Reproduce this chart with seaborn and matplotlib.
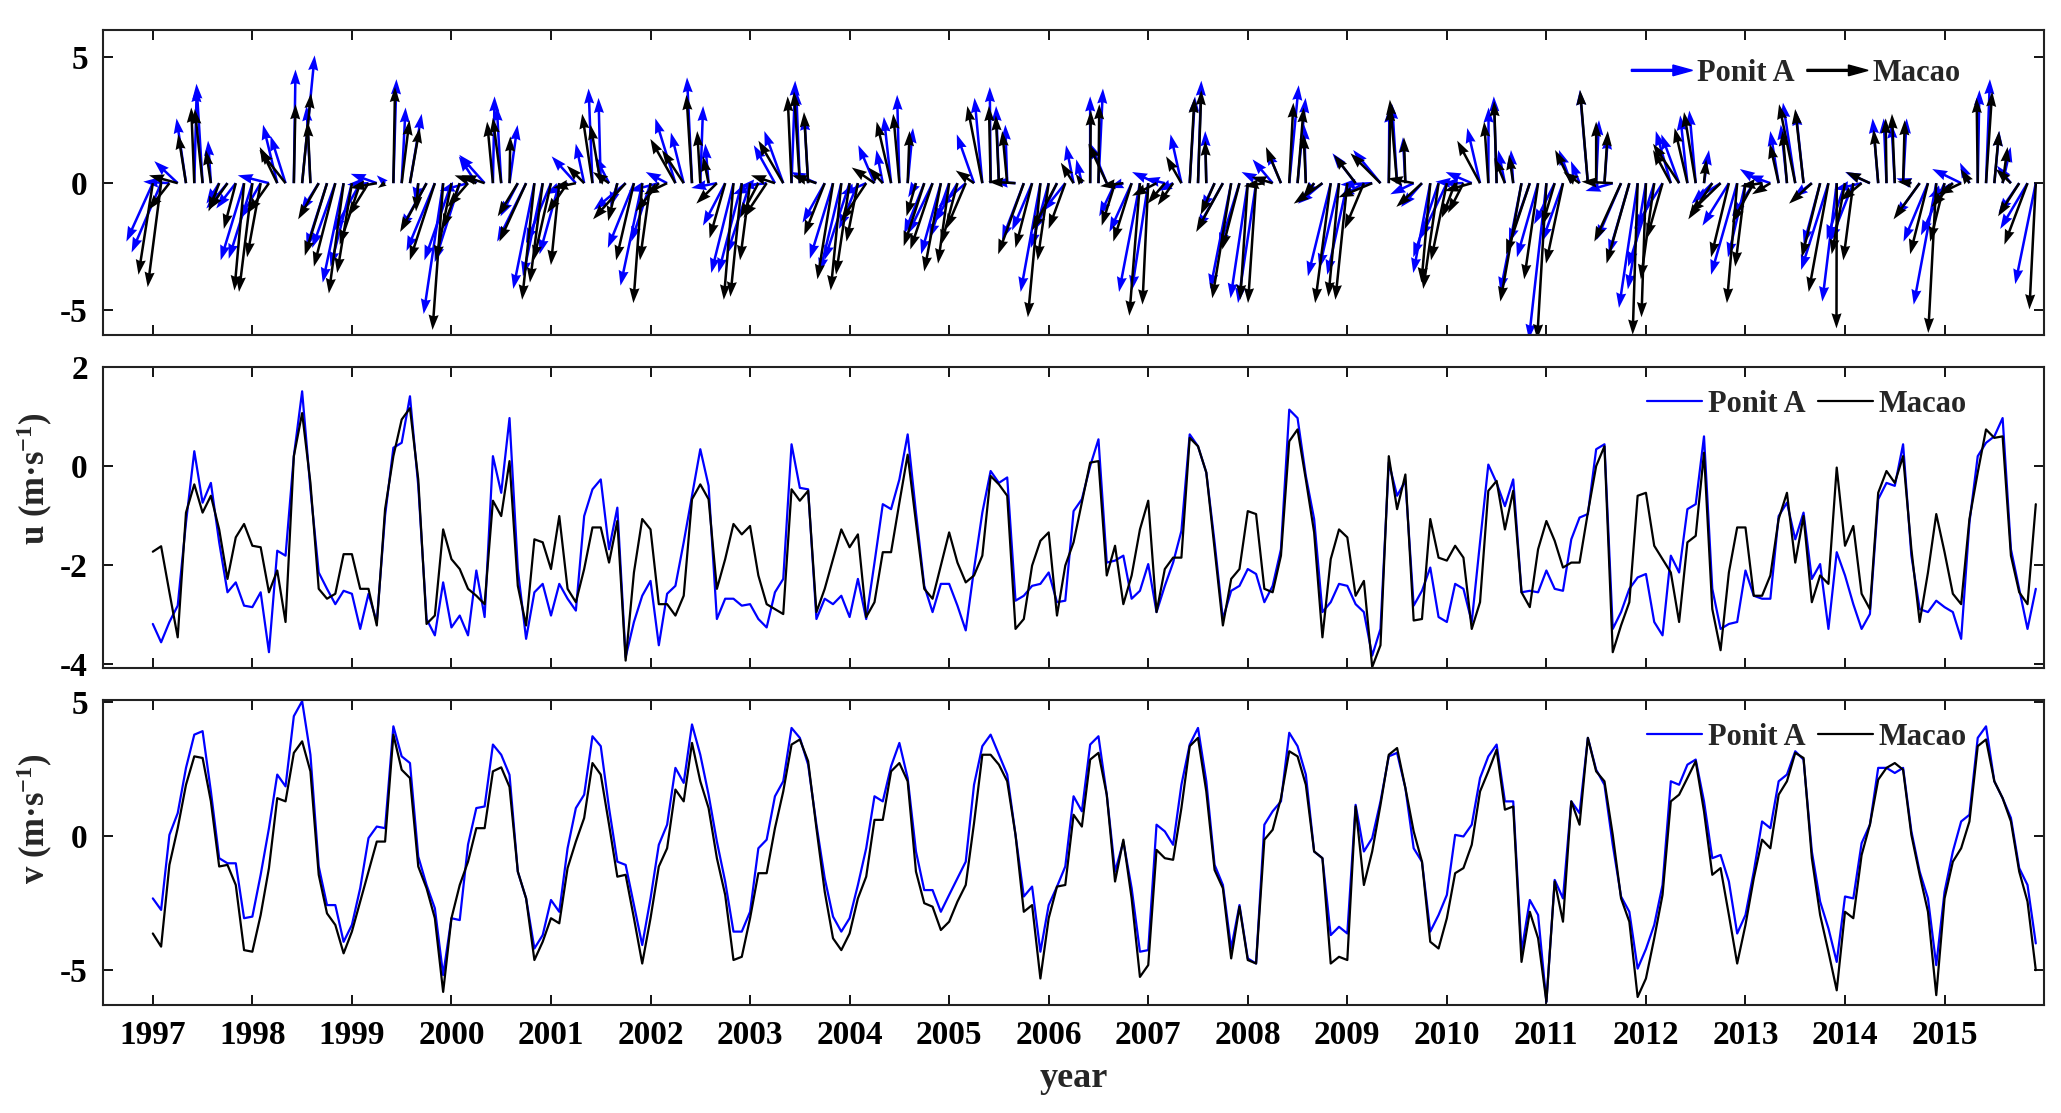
import numpy as np
import pandas as pd
import matplotlib
matplotlib.use("Agg")
import matplotlib.pyplot as plt
import matplotlib.patches as mpatches
from matplotlib.lines import Line2D
from matplotlib.legend_handler import HandlerPatch
import seaborn as sns

# monthly means, Jan 1997 .. Dec 2015 (one row per year)
years = list(range(1997, 2016))

u_point_a = [
    -3.19, -3.56, -3.15, -2.82, -1.14, 0.30, -0.74, -0.34, -1.54, -2.55, -2.35, -2.82,
    -2.85, -2.55, -3.76, -1.71, -1.81, 0.20, 1.51, -0.47, -2.15, -2.48, -2.79, -2.52,
    -2.58, -3.29, -2.58, -3.15, -1.00, 0.37, 0.47, 1.41, -0.40, -3.09, -3.42, -2.35,
    -3.26, -3.02, -3.42, -2.11, -3.05, 0.20, -0.54, 0.97, -2.08, -3.49, -2.55, -2.38,
    -3.02, -2.38, -2.68, -2.92, -1.01, -0.47, -0.27, -1.68, -0.84, -3.86, -3.15, -2.62,
    -2.32, -3.62, -2.58, -2.42, -1.54, -0.60, 0.34, -0.40, -3.09, -2.68, -2.68, -2.82,
    -2.79, -3.09, -3.26, -2.55, -2.28, 0.44, -0.44, -0.47, -3.09, -2.68, -2.79, -2.62,
    -3.05, -2.28, -3.09, -1.95, -0.77, -0.87, -0.27, 0.64, -0.94, -2.42, -2.95, -2.38,
    -2.38, -2.82, -3.32, -2.08, -0.94, -0.10, -0.34, -0.23, -2.72, -2.62, -2.42, -2.38,
    -2.15, -2.75, -2.72, -0.91, -0.67, 0.00, 0.54, -1.95, -1.91, -1.81, -2.68, -2.52,
    -1.98, -2.95, -2.42, -1.95, -1.31, 0.64, 0.40, -0.13, -1.54, -3.09, -2.52, -2.42,
    -2.08, -2.18, -2.75, -2.42, -1.68, 1.14, 0.97, -0.20, -1.07, -2.95, -2.75, -2.38,
    -2.42, -2.79, -2.95, -3.83, -3.29, 0.07, -0.60, -0.30, -2.82, -2.52, -2.05, -3.05,
    -3.15, -2.38, -2.48, -3.15, -1.54, 0.03, -0.34, -0.81, -0.27, -2.55, -2.52, -2.55,
    -2.11, -2.48, -2.52, -1.48, -1.04, -0.97, 0.34, 0.44, -3.29, -2.95, -2.48, -2.25,
    -2.18, -3.15, -3.42, -1.81, -2.15, -0.87, -0.77, 0.60, -2.48, -3.29, -3.19, -3.15,
    -2.11, -2.62, -2.68, -2.68, -1.01, -0.74, -1.48, -0.94, -2.28, -1.98, -3.29, -1.74,
    -2.21, -2.79, -3.29, -2.99, -0.67, -0.34, -0.40, 0.44, -1.81, -2.89, -2.95, -2.72,
    -2.85, -2.95, -3.49, -1.14, 0.20, 0.47, 0.60, 0.97, -1.68, -2.48, -3.29, -2.48,
]

u_macao = [
    -1.73, -1.62, -2.55, -3.46, -0.94, -0.37, -0.94, -0.60, -1.28, -2.28, -1.44, -1.17,
    -1.61, -1.64, -2.55, -2.11, -3.15, 0.20, 1.07, -0.34, -2.48, -2.68, -2.58, -1.78,
    -1.78, -2.48, -2.48, -3.22, -0.87, 0.20, 0.94, 1.17, -0.27, -3.19, -3.02, -1.28,
    -1.88, -2.08, -2.48, -2.62, -2.79, -0.70, -1.01, 0.10, -2.42, -3.22, -1.48, -1.54,
    -2.08, -1.01, -2.48, -2.75, -2.08, -1.24, -1.24, -1.95, -1.11, -3.93, -2.15, -1.07,
    -1.28, -2.79, -2.79, -3.02, -2.62, -0.67, -0.37, -0.67, -2.48, -1.88, -1.17, -1.38,
    -1.21, -2.21, -2.79, -2.89, -2.99, -0.47, -0.70, -0.50, -2.95, -2.48, -1.88, -1.28,
    -1.64, -1.38, -3.05, -2.75, -1.74, -1.74, -0.74, 0.23, -1.14, -2.48, -2.68, -2.01,
    -1.34, -1.95, -2.35, -2.21, -1.81, -0.20, -0.37, -0.60, -3.29, -3.09, -2.01, -1.51,
    -1.34, -3.02, -2.01, -1.54, -0.74, 0.07, 0.10, -2.21, -1.61, -2.79, -2.21, -1.28,
    -0.70, -2.95, -2.08, -1.85, -1.85, 0.57, 0.40, -0.13, -1.68, -3.22, -2.28, -2.08,
    -0.91, -0.97, -2.48, -2.55, -1.81, 0.50, 0.74, -0.27, -1.34, -3.46, -1.88, -1.28,
    -1.44, -2.62, -2.32, -4.06, -3.62, 0.20, -0.87, -0.17, -3.12, -3.09, -1.07, -1.85,
    -1.91, -1.61, -1.85, -3.29, -2.75, -0.50, -0.30, -1.28, -0.50, -2.55, -2.85, -1.68,
    -1.11, -1.51, -2.05, -1.95, -1.95, -0.94, 0.00, 0.40, -3.76, -3.22, -2.75, -0.60,
    -0.54, -1.61, -1.88, -2.15, -3.15, -1.54, -1.41, 0.27, -2.89, -3.72, -2.15, -1.24,
    -1.24, -2.62, -2.62, -2.21, -1.07, -0.54, -1.95, -1.01, -2.75, -2.21, -2.38, -0.03,
    -1.61, -1.21, -2.58, -2.89, -0.54, -0.10, -0.34, 0.20, -1.68, -3.15, -2.15, -0.97,
    -1.74, -2.58, -2.79, -1.07, -0.13, 0.74, 0.57, 0.60, -1.81, -2.55, -2.79, -0.77,
]

v_point_a = [
    -2.31, -2.74, 0.06, 0.87, 2.56, 3.80, 3.93, 1.68, -0.81, -1.00, -1.00, -3.05,
    -2.99, -1.43, 0.31, 2.31, 1.87, 4.49, 5.05, 3.05, -1.12, -2.56, -2.56, -3.93,
    -3.30, -1.93, -0.06, 0.37, 0.31, 4.11, 2.99, 2.74, -0.75, -1.81, -2.68, -5.17,
    -3.05, -3.12, -0.30, 1.06, 1.12, 3.43, 3.05, 2.30, -1.31, -2.31, -4.18, -3.68,
    -2.37, -2.81, -0.44, 1.06, 1.56, 3.74, 3.37, 1.06, -0.94, -1.06, -2.56, -4.05,
    -2.31, -0.31, 0.44, 2.56, 2.00, 4.18, 3.05, 1.56, -0.19, -1.68, -3.55, -3.55,
    -2.81, -0.44, -0.12, 1.50, 2.06, 4.05, 3.68, 2.68, 0.44, -1.56, -2.99, -3.55,
    -3.05, -1.81, -0.44, 1.50, 1.31, 2.62, 3.49, 2.18, -0.56, -2.00, -2.00, -2.81,
    -2.18, -1.56, -0.94, 1.93, 3.37, 3.80, 3.05, 2.31, 0.06, -2.24, -1.87, -4.30,
    -2.56, -1.87, -1.12, 1.50, 0.94, 3.43, 3.74, 1.56, -1.31, -0.19, -1.93, -4.30,
    -4.24, 0.44, 0.19, -0.31, 1.93, 3.43, 4.05, 2.06, -1.06, -1.81, -4.18, -2.56,
    -4.55, -4.74, 0.44, 0.94, 1.31, 3.87, 3.37, 2.31, -0.56, -0.81, -3.68, -3.37,
    -3.62, 1.18, -0.56, -0.06, 1.31, 2.99, 3.12, 1.81, -0.44, -0.94, -3.55, -2.93,
    -2.18, 0.06, 0.00, 0.44, 2.18, 2.99, 3.43, 1.31, 1.31, -4.30, -2.37, -2.93,
    -6.17, -1.62, -2.31, 1.31, 0.87, 3.68, 2.49, 1.93, -0.31, -2.24, -2.81, -4.93,
    -4.20, -3.30, -1.81, 2.06, 1.93, 2.68, 2.87, 1.31, -0.81, -0.69, -1.68, -3.62,
    -2.93, -1.31, 0.56, 0.31, 2.06, 2.31, 3.18, 2.87, -0.56, -2.43, -3.43, -4.68,
    -2.24, -2.31, -0.25, 0.44, 2.56, 2.56, 2.37, 2.56, 0.19, -1.31, -2.31, -4.80,
    -2.06, -0.56, 0.56, 0.81, 3.68, 4.11, 2.06, 1.43, 0.69, -1.18, -1.81, -3.99,
]

v_macao = [
    -3.62, -4.11, -1.06, 0.31, 1.93, 2.99, 2.93, 1.31, -1.12, -1.06, -1.81, -4.24,
    -4.30, -2.93, -1.18, 1.43, 1.31, 3.12, 3.55, 2.43, -1.43, -2.87, -3.30, -4.36,
    -3.55, -2.43, -1.31, -0.19, -0.19, 3.80, 2.49, 2.18, -1.12, -1.93, -3.05, -5.80,
    -3.05, -1.81, -0.94, 0.31, 0.31, 2.43, 2.58, 1.85, -1.31, -2.31, -4.61, -3.93,
    -3.05, -3.24, -1.18, -0.19, 0.69, 2.74, 2.31, 0.44, -1.50, -1.43, -3.05, -4.74,
    -3.05, -1.12, -0.44, 1.75, 1.31, 3.49, 2.06, 1.06, -0.81, -2.18, -4.61, -4.49,
    -3.05, -1.37, -1.37, 0.31, 1.68, 3.43, 3.62, 2.81, 0.31, -2.06, -3.80, -4.24,
    -3.62, -2.31, -1.50, 0.62, 0.62, 2.43, 2.74, 2.06, -1.31, -2.49, -2.62, -3.49,
    -3.18, -2.43, -1.81, 0.50, 3.05, 3.05, 2.68, 2.06, 0.06, -2.81, -2.56, -5.30,
    -3.05, -1.87, -1.81, 0.81, 0.37, 2.87, 3.12, 1.56, -1.68, -0.12, -2.31, -5.24,
    -4.80, -0.50, -0.81, -0.87, 1.06, 3.37, 3.68, 1.68, -1.25, -1.93, -4.55, -2.62,
    -4.61, -4.74, -0.12, 0.25, 1.43, 3.18, 2.99, 1.93, -0.56, -0.81, -4.74, -4.49,
    -4.61, 1.12, -1.81, -0.56, 1.18, 3.05, 3.30, 1.81, 0.19, -0.94, -3.93, -4.18,
    -3.05, -1.37, -1.18, -0.31, 1.68, 2.43, 3.24, 1.00, 1.12, -4.68, -2.81, -3.80,
    -6.17, -1.68, -3.18, 1.31, 0.44, 3.68, 2.43, 2.06, 0.06, -2.31, -3.18, -5.99,
    -5.30, -3.80, -2.18, 1.31, 1.56, 2.18, 2.81, 0.94, -1.43, -1.18, -2.93, -4.74,
    -3.30, -1.56, -0.12, -0.44, 1.56, 2.06, 3.12, 2.93, -0.81, -2.93, -4.30, -5.74,
    -2.81, -3.05, -0.69, 0.44, 2.12, 2.56, 2.74, 2.49, 0.06, -1.43, -2.81, -5.92,
    -2.31, -0.94, -0.44, 0.56, 3.37, 3.62, 2.06, 1.43, 0.56, -1.31, -2.43, -4.99,
]

sites = ["Ponit A", "Macao"]
colors = {"Ponit A": "blue", "Macao": "black"}

# x axis runs in months (1 = Jan 1997) so the quiver u component is in the same units
month = np.arange(1, len(u_point_a) + 1)
n = len(month)

df = pd.DataFrame({
    "month": np.concatenate([month, month]),
    "u": u_point_a + u_macao,
    "v": v_point_a + v_macao,
    "site": [sites[0]] * n + [sites[1]] * n,
})

sns.set_theme(style="ticks")
plt.rcParams["font.family"] = ["Liberation Serif", "DejaVu Serif"]
plt.rcParams["font.weight"] = "bold"
plt.rcParams["axes.unicode_minus"] = False
plt.rcParams["mathtext.fontset"] = "custom"
plt.rcParams["mathtext.rm"] = "Liberation Serif:bold"
plt.rcParams["mathtext.it"] = "Liberation Serif:bold"
plt.rcParams["mathtext.bf"] = "Liberation Serif:bold"

fig = plt.figure(figsize=(20.61, 11.13), dpi=100)
ax_q = fig.add_axes([0.050, 0.699, 0.9418, 0.274])
ax_u = fig.add_axes([0.050, 0.3998, 0.9418, 0.2704])
ax_v = fig.add_axes([0.050, 0.097, 0.9418, 0.274])

# --- top: wind vectors ---
for site in sites:
    d = df[df["site"] == site]
    ax_q.quiver(d["month"], np.zeros(len(d)), d["u"], d["v"], color=colors[site],
                angles="xy", scale_units="xy", scale=1,
                width=0.0013, headwidth=4, headlength=6, headaxislength=5.5)


def arrow_handle(legend, orig_handle, xdescent, ydescent, width, height, fontsize):
    return mpatches.FancyArrow(0, 0.5 * height, width, 0, length_includes_head=True,
                               width=0.09 * height, head_width=0.5 * height,
                               head_length=0.32 * width)


q_handles = [mpatches.Patch(color=colors[s]) for s in sites]
ax_q.legend(q_handles, sites, loc="upper right", bbox_to_anchor=(0.972, 1.0), ncol=2,
            frameon=False, fontsize=22, handlelength=2.0, handletextpad=0.15,
            columnspacing=0.4, borderaxespad=0.55,
            handler_map={mpatches.Patch: HandlerPatch(patch_func=arrow_handle)})

# --- middle and bottom: u and v time series ---
sns.lineplot(data=df, x="month", y="u", hue="site", hue_order=sites, palette=colors,
             ax=ax_u, linewidth=1.6, legend=False)
sns.lineplot(data=df, x="month", y="v", hue="site", hue_order=sites, palette=colors,
             ax=ax_v, linewidth=1.6, legend=False)

line_handles = [Line2D([], [], color=colors[s], lw=1.6) for s in sites]
for ax in (ax_u, ax_v):
    ax.legend(line_handles, sites, loc="upper right", bbox_to_anchor=(0.972, 1.0), ncol=2,
              frameon=False, fontsize=22, handlelength=1.8, handletextpad=0.2,
              columnspacing=0.4, borderaxespad=0.35)

year_ticks = [1 + 12 * i for i in range(len(years))]
for ax in (ax_q, ax_u, ax_v):
    ax.set_xlim(-5, 229)
    ax.set_xticks(year_ticks)
    ax.set_xticklabels([str(y) for y in years])
    ax.tick_params(direction="in", length=7, width=1.3, top=True, right=True,
                   labelsize=24, colors="black", pad=11)
    for s in ax.spines.values():
        s.set_linewidth(1.5)
        s.set_color("#222222")
    ax.set_xlabel("")
    ax.set_ylabel("")

ax_q.tick_params(labelbottom=False)
ax_u.tick_params(labelbottom=False)

ax_q.set_ylim(-6.0, 6.05)
ax_q.set_yticks([-5, 0, 5])
ax_u.set_ylim(-4.08, 1.97)
ax_u.set_yticks([-4, -2, 0, 2])
ax_v.set_ylim(-6.29, 5.09)
ax_v.set_yticks([-5, 0, 5])

ax_u.set_ylabel("u (m·s$^{-1}$)", fontsize=25, fontweight="bold")
ax_v.set_ylabel("v (m·s$^{-1}$)", fontsize=25, fontweight="bold")
ax_u.yaxis.set_label_coords(-0.025, 0.63)
ax_v.yaxis.set_label_coords(-0.025, 0.61)
ax_v.set_xlabel("year", fontsize=26, fontweight="bold", labelpad=8)

fig.savefig("out.png", dpi=100)
